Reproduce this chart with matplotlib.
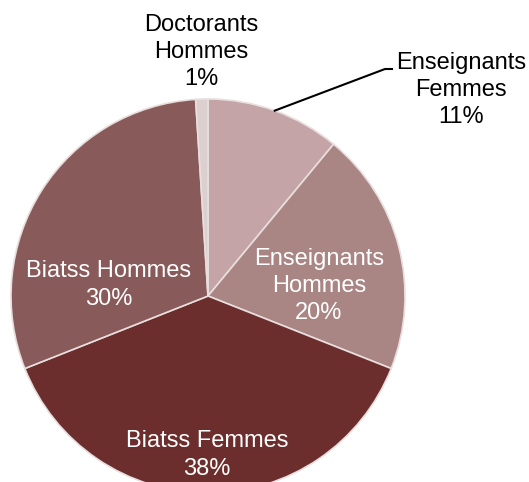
import numpy as np
import matplotlib
matplotlib.use('Agg')
import matplotlib.pyplot as plt

plt.rcParams['font.family'] = ['Liberation Sans', 'DejaVu Sans']

# data, clockwise from the top
categories = ['Enseignants\nFemmes', 'Enseignants\nHommes', 'Biatss Femmes',
              'Biatss Hommes', 'Doctorants\nHommes']
values = [11, 20, 38, 30, 1]
colors = ['#c4a4a6', '#a98584', '#6b2e2d', '#895a5a', '#dccfd0']

# layout (pixels, y up)
W, H = 529, 482
cx, cy, R = 208, 482 - 296, 197
label_pos = [(461, 482 - 90), (319, 482 - 286), (207, 482 - 455),
             (109, 482 - 285), (201, 482 - 52)]
label_col = ['black', 'white', 'white', 'white', 'black']

fig = plt.figure(figsize=(W / 100, H / 100), dpi=100)
ax = fig.add_axes([0, 0, 1, 1])
wedges, _ = ax.pie(values, colors=colors, startangle=90, counterclock=False,
                   center=(cx, cy), radius=R, frame=True,
                   wedgeprops=dict(edgecolor='#e9dede', linewidth=1.2))
for w in wedges:
    w.set_clip_on(True)

total = sum(values)
for i, (cat, v) in enumerate(zip(categories, values)):
    x, y = label_pos[i]
    ax.text(x, y, f'{cat}\n{round(100 * v / total)}%', ha='center', va='center',
            fontsize=17, color=label_col[i], linespacing=1.3)

# leader line for the small outside label
w = wedges[0]
mid = np.deg2rad((w.theta1 + w.theta2) / 2)
ax.plot([cx + R * np.cos(mid), 385, 392],
        [cy + R * np.sin(mid), 482 - 69, 482 - 69], color='black', lw=1.5)

ax.set_xlim(0, W)
ax.set_ylim(0, H)
ax.set_aspect('equal')
ax.axis('off')
fig.savefig('out.png', dpi=100)
